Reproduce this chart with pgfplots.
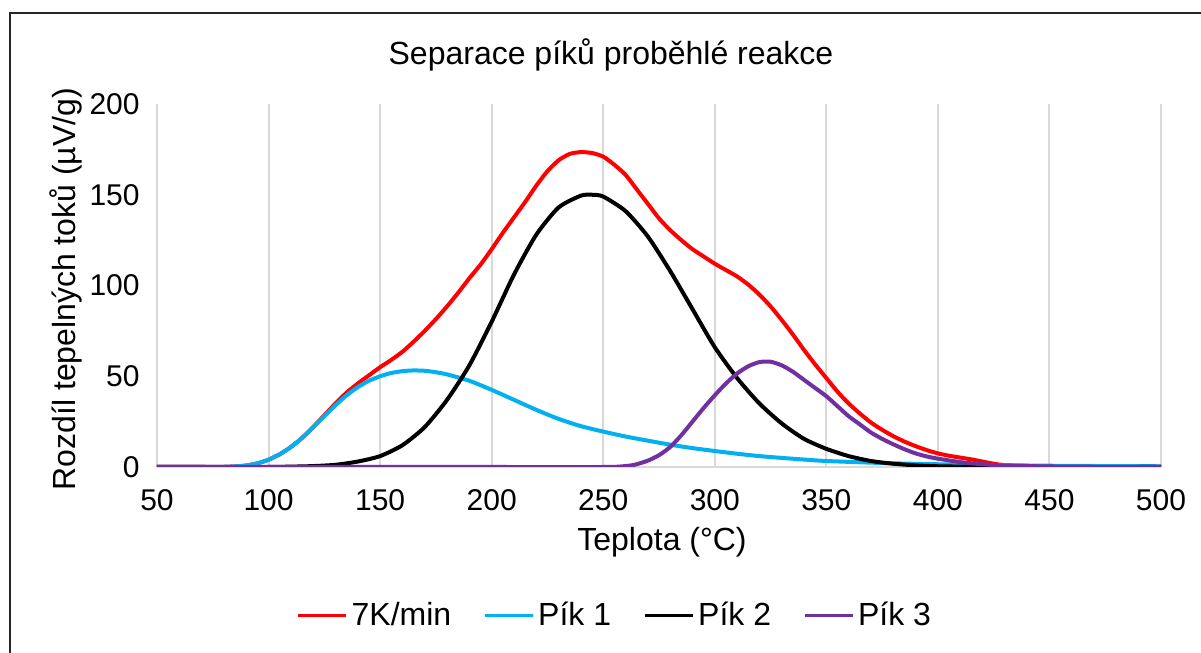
\documentclass[border=0pt]{standalone}
\usepackage{pgfplots}
\pgfplotsset{compat=1.18}
\usepackage{fontspec}
\setmainfont{Liberation Sans}
\definecolor{cred}{RGB}{255,0,0}
\definecolor{cblue}{RGB}{0,176,240}
\definecolor{cpurple}{RGB}{112,48,160}
\definecolor{cgrid}{RGB}{217,217,217}
\begin{document}
\begin{tikzpicture}
\useasboundingbox (0,0) rectangle (600.5pt,326.5pt);
\draw[line width=1.2pt, black!85] (5pt,-10pt) -- (5pt,320pt) -- (620pt,320pt);
\node[font=\fontsize{16}{19}\selectfont] at (305.5pt,299pt) {Separace píků proběhlé reakce};
\begin{axis}[
  at={(78.5pt,93pt)}, anchor=south west,
  scale only axis, width=502pt, height=181.5pt,
  xmin=50, xmax=500, ymin=0, ymax=200,
  xtick={50,100,...,500}, ytick={0,50,...,200},
  axis x line*=bottom, axis y line*=left,
  y axis line style={draw=none},
  x axis line style={cgrid, line width=1pt},
  major tick length=0pt,
  xmajorgrids, grid style={cgrid, line width=1pt},
  tick label style={font=\fontsize{15}{18}\selectfont},
  /pgf/number format/assume math mode=true,
  yticklabel style={inner sep=0pt, anchor=east, xshift=-8.5pt},
  xticklabel style={inner sep=0pt, anchor=north, yshift=-11pt},
  xlabel={Teplota (°C)},
  ylabel={Rozdíl tepelných toků (µV/g)},
  label style={font=\fontsize{16}{19}\selectfont},
  xlabel style={at={(axis description cs:0.503,-0.2066)}, anchor=center},
  ylabel style={at={(axis description cs:-0.0906,0.49)}, anchor=center},
  legend columns=4,
  legend style={draw=none, fill=none, at={(0.457,-0.408)}, anchor=center,
    font=\fontsize{16}{19}\selectfont,
    /tikz/every even column/.append style={column sep=14pt}},
  legend image code/.code={\draw[#1, line width=1.5pt] (0pt,0pt) -- (24pt,0pt);},
  every axis plot/.append style={line width=2pt, smooth, tension=0.4},
]
\addplot[cred] coordinates {
(50,0) (70,0) (80,0) (85,0.3) (90,0.8) (95,2) (100,4) (105,7) (110,11) (115,16) (120,22) (125,28.5) (130,35) (135,41) (140,46) (145,50.5) (150,55) (155,59) (160,63.5) (165,69) (170,75) (175,81.5) (180,88.5) (185,96) (190,104) (195,111.5) (200,120) (205,129) (210,137.5) (215,146) (220,155) (225,163) (230,169) (235,172.5) (240,173.5) (245,173) (250,171) (255,166.5) (260,161) (265,153) (270,145) (275,137) (280,130.5) (285,125) (290,120) (295,116) (300,112) (305,108.5) (310,105) (315,100.5) (320,95) (325,88.5) (330,81) (335,73) (340,64.5) (345,56.5) (350,49) (355,41.5) (360,35) (365,29.5) (370,24.5) (375,20.5) (380,17) (385,14) (390,11.5) (395,9.3) (400,7.5) (405,6.2) (410,5.2) (415,4.2) (420,3) (425,1.8) (430,1) (440,0.5) (450,0.3) (475,0.1) (500,0)
};
\addlegendentry{7K/min}
\addplot[cblue] coordinates {
(50,0) (70,0) (80,0) (85,0.3) (90,0.8) (95,2) (100,4) (105,7) (110,11) (115,16) (120,22) (125,28) (130,34) (135,39.5) (140,44) (145,47.5) (150,50) (155,51.8) (160,52.8) (165,53.2) (170,53) (175,52.2) (180,51) (190,47.5) (200,42.5) (210,37) (220,31.5) (230,26.5) (240,22.5) (250,19.5) (260,16.8) (270,14.5) (280,12.3) (290,10.4) (300,8.8) (310,7.3) (320,6) (330,5) (340,4.1) (350,3.3) (375,2.2) (400,1.5) (450,0.7) (500,0.4)
};
\addlegendentry{Pík 1}
\addplot[black] coordinates {
(50,0) (80,0) (100,0) (110,0.2) (120,0.5) (130,1.2) (140,3) (150,6) (160,12) (170,22) (180,37) (190,56) (200,80) (210,106) (220,128) (230,143) (240,149.5) (245,150) (250,149) (260,141) (270,127) (280,108) (290,87) (300,66) (310,49) (320,35) (330,24) (340,15.5) (350,10) (360,6) (370,3.3) (380,1.8) (390,0.9) (400,0.4) (420,0.1) (450,0) (500,0)
};
\addlegendentry{Pík 2}
\addplot[cpurple] coordinates {
(50,0) (150,0) (200,0) (250,0) (258,0.3) (264,1.2) (270,3.5) (275,6.5) (280,11) (285,17.5) (290,25) (295,32.5) (300,39.5) (305,46) (310,51.5) (315,55.5) (320,57.8) (325,58) (330,56) (335,52.5) (340,48) (345,43.5) (350,39) (355,33.5) (360,28) (365,23.5) (370,19) (375,15.5) (380,12.5) (385,9.8) (390,7.5) (395,5.8) (400,4.6) (410,2.7) (420,1.5) (430,0.8) (450,0.3) (475,0.1) (500,0)
};
\addlegendentry{Pík 3}
\end{axis}
\end{tikzpicture}
\end{document}
